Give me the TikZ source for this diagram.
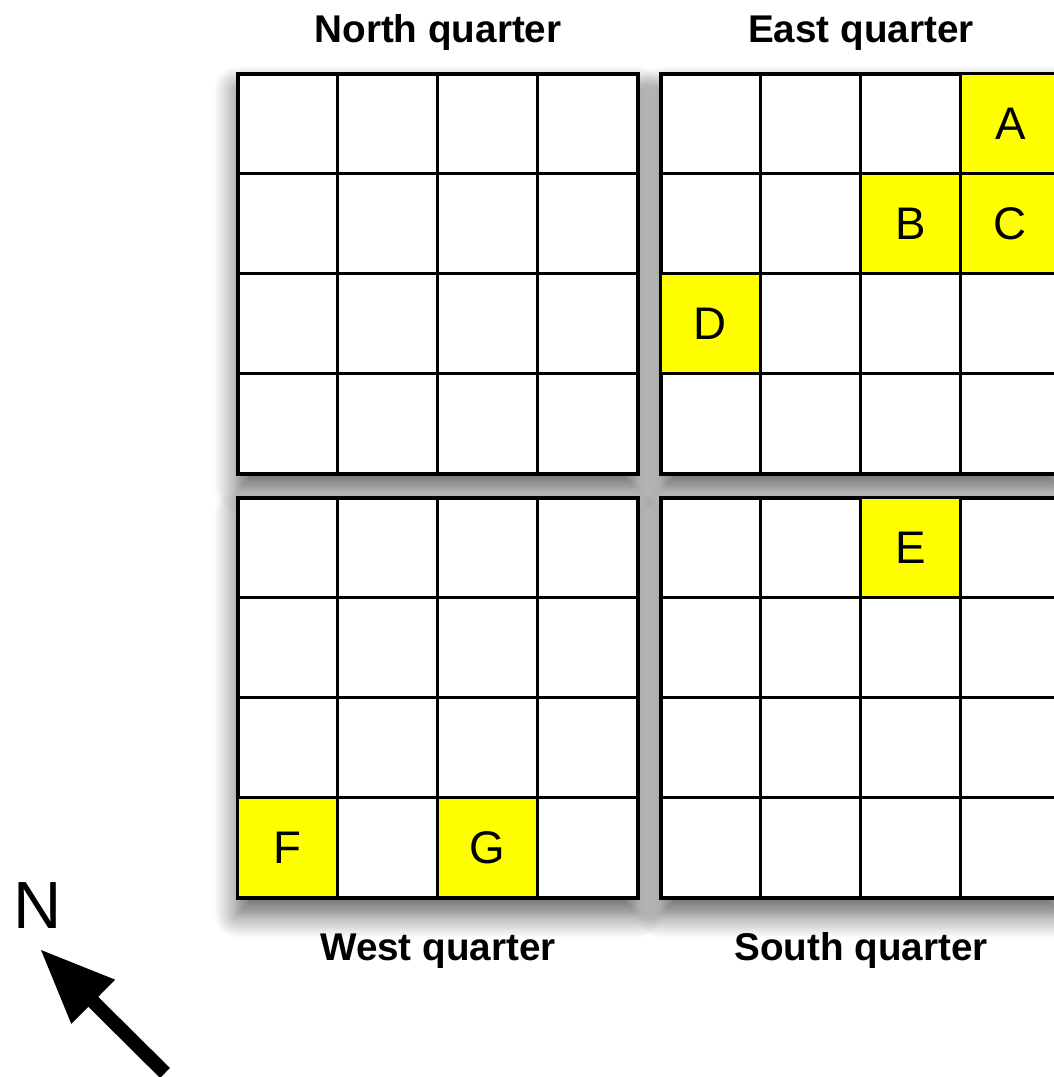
\documentclass[tikz,border=0pt]{standalone}
\usepackage{fontspec}
\setmainfont{Liberation Sans}
\usetikzlibrary{arrows.meta, positioning, shadows.blur}
\definecolor{marker}{RGB}{255,255,0}

\begin{document}
\begin{tikzpicture}[
    quarter/.style={rectangle, draw=black, line width=1pt, fill=white, minimum size=4cm, inner sep=0pt, blur shadow={shadow xshift=0pt, shadow yshift=-1.6mm, shadow blur radius=2.4mm, shadow blur steps=12, shadow opacity=65}},
    cell/.style={rectangle, draw=black, line width=0.7pt, minimum size=1cm, inner sep=0pt, anchor=north west},
    hit/.style={rectangle, draw=black, line width=0.7pt, fill=marker, minimum size=1cm, inner sep=0pt, font=\fontsize{13}{15}\selectfont},
    title/.style={font=\bfseries\fontsize{11}{13}\selectfont, inner sep=0pt, text height=0.72em, text depth=0.21em},
    arrow/.style={-{Triangle[length=7.5mm, width=5.8mm]}, line width=1.4mm}
]
\useasboundingbox (0,0) rectangle (10.53,10.77);
\node[quarter] (north) at (4.38,8.03) {};
\node[quarter] (east) at (8.61,8.03) {};
\node[quarter] (west) at (4.38,3.79) {};
\node[quarter] (south) at (8.61,3.79) {};
\foreach \q in {north,east,west,south}
  \foreach \r in {0,...,3}
    \foreach \c in {0,...,3}
      \node[cell, xshift=\c cm, yshift=-\r cm] (\q-\r\c) at (\q.north west) {};
\node[hit] (a) at (east-03) {A};
\node[hit] (b) at (east-12) {B};
\node[hit] (c) at (east-13) {C};
\node[hit] (d) at (east-20) {D};
\node[hit] (e) at (south-02) {E};
\node[hit] (f) at (west-30) {F};
\node[hit] (g) at (west-32) {G};
\node[title, above=0.22cm of north] {North quarter};
\node[title, above=0.22cm of east] {East quarter};
\node[title, below=0.35cm of west] {West quarter};
\node[title, below=0.35cm of south] {South quarter};
\node[font=\fontsize{19}{22}\selectfont] (compass) at (0.38,1.71) {N};
\coordinate (tail) at (1.65,0.04);
\coordinate (tip) at (0.40,1.28);
\draw[arrow] (tail) -- (tip);
\end{tikzpicture}
\end{document}
